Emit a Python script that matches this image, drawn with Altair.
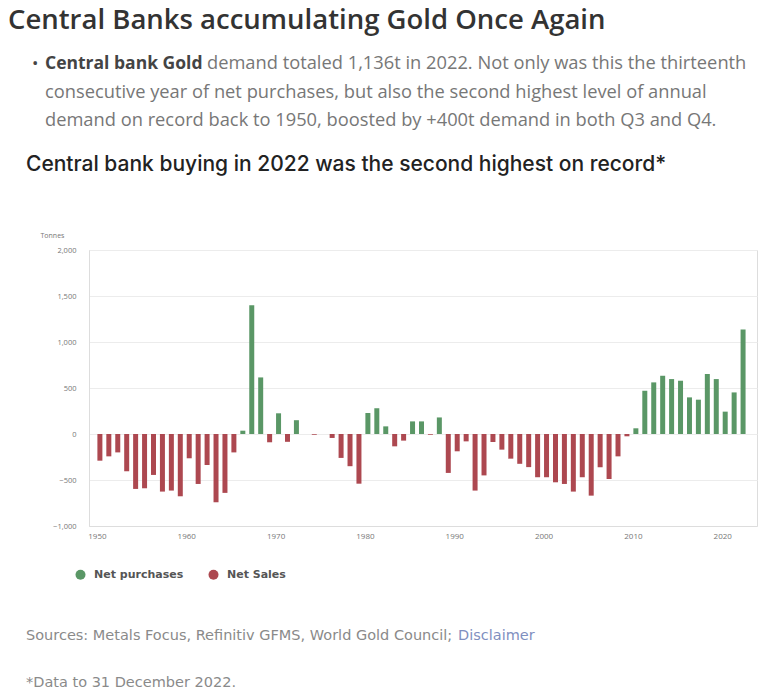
import altair as alt
import pandas as pd

years = list(range(1950, 2023))
tonnes = [
    -290, -243, -200, -405, -597, -590, -445, -626, -615, -677,
    -264, -543, -337, -742, -640, -200, 36, 1400, 615, -90,
    225, -85, 150, 0, -8, 0, -43, -260, -350, -540,
    228, 280, 83, -134, -72, 137, 137, -8, 180, -423,
    -188, -80, -615, -450, -87, -170, -268, -324, -360, -470,
    -470, -525, -543, -626, -470, -670, -362, -489, -243, -25,
    62, 470, 561, 633, 597, 579, 398, 373, 652, 597,
    243, 452, 1136,
]
series_names = ["Net purchases", "Net Sales"]
series_colors = ["#5a9766", "#ad4850"]
x_ticks = [1950, 1960, 1970, 1980, 1990, 2000, 2010, 2020]
y_ticks = [-1000, -500, 0, 500, 1000, 1500, 2000]

title_text = "Central Banks accumulating Gold Once Again"
bullet_bold = "Central bank Gold"
bullet_lines = [
    "demand totaled 1,136t in 2022. Not only was this the thirteenth",
    "consecutive year of net purchases, but also the second highest level of annual",
    "demand on record back to 1950, boosted by +400t demand in both Q3 and Q4.",
]
subtitle_text = "Central bank buying in 2022 was the second highest on record*"
sources_text = "Sources: Metals Focus, Refinitiv GFMS, World Gold Council;"
disclaimer_text = "Disclaimer"
note_text = "*Data to 31 December 2022."

df = pd.DataFrame({"year": years, "tonnes": tonnes})

W, H = 668, 276
OX, OY = 89, 250

bars = alt.Chart(df).transform_calculate(
    kind="datum.tonnes >= 0 ? 'Net purchases' : 'Net Sales'"
).mark_bar(size=5).encode(
    x=alt.X("year:Q",
            scale=alt.Scale(domain=[1949.34, 2023.0], nice=False, zero=False),
            axis=alt.Axis(values=x_ticks, format="d", title=None, ticks=False, grid=False,
                          labelFontSize=8, labelColor="#777", labelPadding=6,
                          domainColor="#dddddd", labelOffset=-3, labelFont="Open Sans")),
    y=alt.Y("tonnes:Q",
            scale=alt.Scale(domain=[-1000, 2000], nice=False),
            axis=alt.Axis(values=y_ticks, format=",.0f", title="Tonnes", titleAngle=0,
                          titleX=-49, titleY=-15, titleAlign="left", titleBaseline="middle",
                          titleFontSize=7, titleFontWeight="normal", titleColor="#777",
                          titleFont="Open Sans",
                          labelFontSize=7.5, labelColor="#777", labelPadding=13, ticks=False,
                          gridColor="#ececec", domainColor="#dddddd", labelFont="Open Sans")),
    color=alt.Color("kind:N",
                    scale=alt.Scale(domain=series_names, range=series_colors),
                    legend=alt.Legend(title=None, orient="none", direction="horizontal",
                                      legendX=-14, legendY=319, symbolType="circle",
                                      symbolSize=100, symbolStrokeWidth=0, labelFontSize=11,
                                      labelFontWeight="bold", labelColor="#555",
                                      labelFont="DejaVu Sans", labelOffset=8,
                                      columnPadding=24, padding=0)),
)


def txt(s, x, y, size, color="#555", weight="normal", font="Open Sans"):
    return alt.Chart(pd.DataFrame({"t": [s]})).mark_text(
        align="left", baseline="middle", fontSize=size, color=color,
        fontWeight=weight, font=font,
    ).encode(text="t:N", x=alt.value(x - OX), y=alt.value(y - OY))


layers = [bars]
layers.append(txt(title_text, 8, 21, 27.5, "#333", 600))
layers.append(txt("•", 32, 64, 17, "#444"))
layers.append(txt(bullet_bold, 45, 64, 17.5, "#444", "bold"))
layers.append(txt(bullet_lines[0], 207, 64, 18.3, "#777"))
layers.append(txt(bullet_lines[1], 45, 93, 18.3, "#777"))
layers.append(txt(bullet_lines[2], 45, 121, 18.3, "#777"))
layers.append(txt(subtitle_text, 26, 165, 21, "#222", 500, "Inter"))
layers.append(txt(sources_text, 26, 636, 14.5, "#8a8a8a", "normal", "DejaVu Sans"))
layers.append(txt(disclaimer_text, 458, 636, 14.5, "#7f8fbf", "normal", "DejaVu Sans"))
layers.append(txt(note_text, 26, 683, 14.5, "#8a8a8a", "normal", "DejaVu Sans"))

chart = alt.layer(*layers).properties(
    width=W, height=H,
    autosize=alt.AutoSizeParams(type="none"),
    padding={"left": OX, "top": OY, "right": 768 - OX - W, "bottom": 694 - OY - H},
    background="white",
).configure_view(stroke="#dddddd")

chart.save("out.html", embed_options={"renderer": "svg", "actions": False})
